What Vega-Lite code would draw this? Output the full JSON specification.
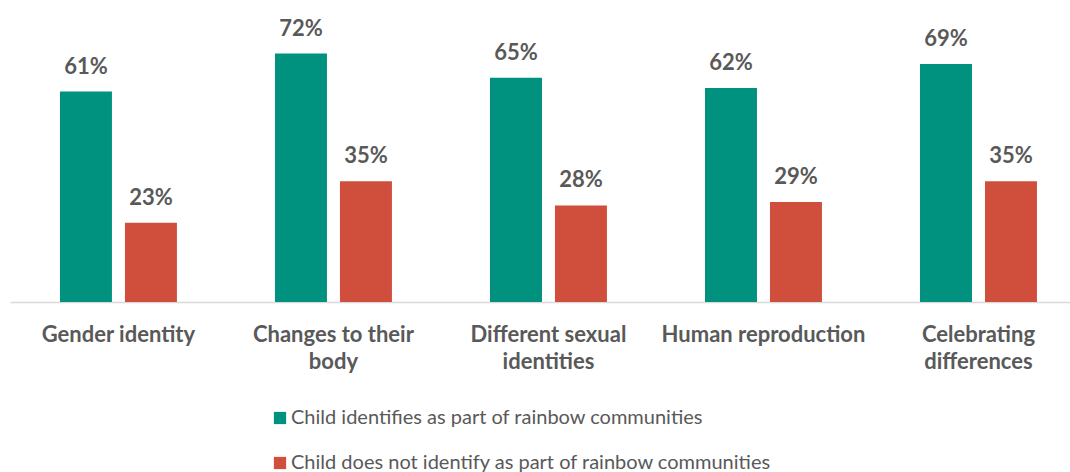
{
  "$schema": "https://vega.github.io/schema/vega-lite/v6.json",
  "autosize": "none",
  "width": 1060,
  "height": 276,
  "padding": {"left": 10, "top": 26, "right": 0, "bottom": 170},
  "background": "white",
  "data": {"values": [
    {"topic": "Gender identity", "group": "Child identifies as part of rainbow communities", "value": 61},
    {"topic": "Gender identity", "group": "Child does not identify as part of rainbow communities", "value": 23},
    {"topic": "Changes to their body", "group": "Child identifies as part of rainbow communities", "value": 72},
    {"topic": "Changes to their body", "group": "Child does not identify as part of rainbow communities", "value": 35},
    {"topic": "Different sexual identities", "group": "Child identifies as part of rainbow communities", "value": 65},
    {"topic": "Different sexual identities", "group": "Child does not identify as part of rainbow communities", "value": 28},
    {"topic": "Human reproduction", "group": "Child identifies as part of rainbow communities", "value": 62},
    {"topic": "Human reproduction", "group": "Child does not identify as part of rainbow communities", "value": 29},
    {"topic": "Celebrating differences", "group": "Child identifies as part of rainbow communities", "value": 69},
    {"topic": "Celebrating differences", "group": "Child does not identify as part of rainbow communities", "value": 35}
  ]},
  "encoding": {
    "x": {
      "field": "topic", "type": "nominal", "sort": null,
      "scale": {"paddingInner": 0.456, "paddingOuter": 0.193, "align": 0.602},
      "axis": {
        "title": null, "labelAngle": 0, "ticks": false, "grid": false,
        "domainColor": "#D9D9D9", "domainWidth": 1.5,
        "labelFont": "Lato", "labelFontSize": 22, "labelFontWeight": "bold", "labelColor": "#595959",
        "labelBaseline": "top", "labelPadding": 22, "labelLineHeight": 27, "labelLimit": 0,
        "labelExpr": "datum.value == 'Changes to their body' ? ['Changes to their', 'body'] : datum.value == 'Different sexual identities' ? ['Different sexual', 'identities'] : datum.value == 'Celebrating differences' ? ['Celebrating', 'differences'] : datum.value"
      }
    },
    "xOffset": {"field": "group", "type": "nominal", "sort": null, "scale": {"paddingInner": 0.2, "paddingOuter": 0}},
    "y": {"field": "value", "type": "quantitative", "scale": {"domain": [0, 80]}, "axis": null}
  },
  "layer": [
    {
      "mark": {"type": "bar"},
      "encoding": {
        "color": {
          "field": "group", "type": "nominal", "sort": null,
          "scale": {"domain": ["Child identifies as part of rainbow communities", "Child does not identify as part of rainbow communities"], "range": ["#00927F", "#D04F3C"]},
          "legend": {
            "title": null, "orient": "none", "legendX": 260, "legendY": 382, "direction": "vertical",
            "symbolType": "square", "symbolSize": 150, "symbolStrokeWidth": 0, "symbolOpacity": 1,
            "labelFont": "Lato", "labelFontSize": 20, "labelColor": "#595959", "labelLimit": 0,
            "labelOffset": 1, "rowPadding": 25, "padding": 0
          }
        }
      }
    },
    {
      "transform": [{"calculate": "datum.value + '%'", "as": "lbl"}],
      "mark": {"type": "text", "baseline": "alphabetic", "dy": -18, "font": "Lato", "fontSize": 22, "fontWeight": "bold", "color": "#595959"},
      "encoding": {
        "text": {"field": "lbl", "type": "nominal"},
        "detail": {"field": "group"}
      }
    }
  ],
  "config": {"view": {"stroke": null}}
}
